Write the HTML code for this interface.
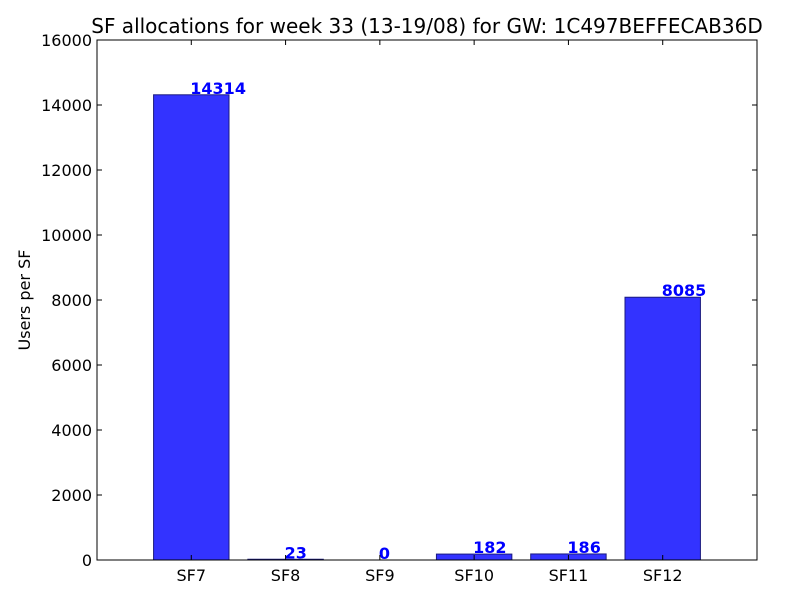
<!DOCTYPE html>
<html><head><meta charset="utf-8"><style>
body{margin:0;background:#fff;}
svg text{font-family:"DejaVu Sans","Liberation Sans",sans-serif;}
</style></head><body>
<svg id="chart" width="800" height="600" xmlns="http://www.w3.org/2000/svg">
<rect width="800" height="600" fill="#fff"/>
<text x="427" y="33" font-size="20" text-anchor="middle">SF allocations for week 33 (13-19/08) for GW: 1C497BEFFECAB36D</text>
<text transform="translate(30,300) rotate(-90)" font-size="16" text-anchor="middle">Users per SF</text>
<g id="bars"></g>
<g id="axes"></g>
</svg>
<script>
const categories=["SF7","SF8","SF9","SF10","SF11","SF12"];
const values=[14314,23,0,182,186,8085];
const yTicks=[0,2000,4000,6000,8000,10000,12000,14000,16000];
const L=97,R=757,T=40,B=560,YMAX=16000,XMAX=7;
const ns="http://www.w3.org/2000/svg";
function xs(v){return L+(R-L)*v/XMAX;}
function ys(v){return B-(B-T)*v/YMAX;}
function mk(tag,attrs,parent){const e=document.createElementNS(ns,tag);for(const k in attrs)e.setAttribute(k,attrs[k]);parent.appendChild(e);return e;}
const bars=document.getElementById('bars'),axes=document.getElementById('axes');
categories.forEach((c,i)=>{
  const x0=xs(i+1-0.4),x1=xs(i+1+0.4),y=ys(values[i]);
  const r=mk('rect',{x:x0,y:y,width:x1-x0,height:B-y,fill:'#3333ff',stroke:'#1a1a80','stroke-width':1},bars);
  
  
  const t=mk('text',{x:xs(i+1)-1,y:y-1,'font-size':16,'font-weight':'bold',fill:'#0000ff'},bars);
  t.textContent=values[i];
  
  
  const tk=mk('path',{d:`M${xs(i+1)},${B}v-5M${xs(i+1)},${T}v5`,stroke:'#000'},axes);
  
  
  const lb=mk('text',{x:xs(i+1),y:B+21,'font-size':16,'text-anchor':'middle'},axes);
  lb.textContent=c;
  
  
});
yTicks.forEach(v=>{
  const y=ys(v);
  const tk=mk('path',{d:`M${L},${y}h5M${R},${y}h-5`,stroke:'#000'},axes);
  
  
  const lb=mk('text',{x:L-5,y:y+6,'font-size':16,'text-anchor':'end'},axes);
  lb.textContent=v;
  
  
});
const fr=mk('rect',{x:L,y:T,width:R-L,height:B-T,fill:'none',stroke:'#000'},axes);


</script>
</body></html>
